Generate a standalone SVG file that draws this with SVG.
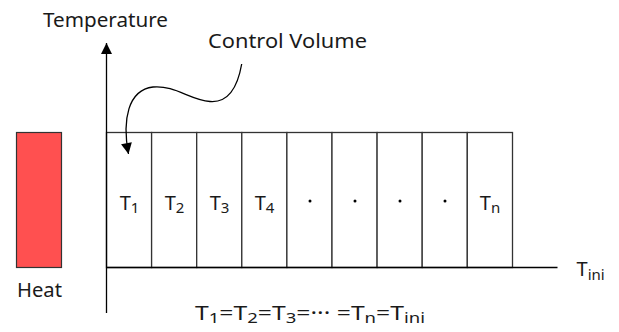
<svg xmlns="http://www.w3.org/2000/svg" width="619" height="332" viewBox="0 0 619 332">
<defs>
<style>
text{font-family:"Noto Sans","Open Sans","DejaVu Sans",sans-serif;font-size:20px;fill:#1a1a1a}
.lbl{font-size:20px}
.sub{font-size:15px}
.cell{fill:#fff;stroke:#333;stroke-width:1.3}
.ax{stroke:#000;stroke-width:1.3;fill:none}
</style>
<marker id="ah2" viewBox="0 0 10 10" refX="10" refY="5" markerWidth="14" markerHeight="11" markerUnits="userSpaceOnUse" orient="auto">
<path d="M0,0 L10,5 L0,10 z" fill="#000"/>
</marker>
</defs>
<g id="heat">
<rect x="16.5" y="132.5" width="45" height="135" fill="#ff5050" stroke="#333" stroke-width="1.2"/>
<text x="17" y="297" textLength="45" lengthAdjust="spacingAndGlyphs">Heat</text>
</g>
<g id="cells">
<rect class="cell" x="106.5" y="132.5" width="45.1" height="135"/>
<rect class="cell" x="151.6" y="132.5" width="45.1" height="135"/>
<rect class="cell" x="196.7" y="132.5" width="45.1" height="135"/>
<rect class="cell" x="241.8" y="132.5" width="45.1" height="135"/>
<rect class="cell" x="286.9" y="132.5" width="45.1" height="135"/>
<rect class="cell" x="332" y="132.5" width="45.1" height="135"/>
<rect class="cell" x="377.1" y="132.5" width="45.1" height="135"/>
<rect class="cell" x="422.2" y="132.5" width="45.1" height="135"/>
<rect class="cell" x="467.3" y="132.5" width="45.2" height="135"/>
<text class="lbl" x="129.5" y="210" text-anchor="middle">T<tspan class="sub" dy="2.5">1</tspan></text>
<text class="lbl" x="174.5" y="210" text-anchor="middle">T<tspan class="sub" dy="2.5">2</tspan></text>
<text class="lbl" x="219.5" y="210" text-anchor="middle">T<tspan class="sub" dy="2.5">3</tspan></text>
<text class="lbl" x="264.5" y="210" text-anchor="middle">T<tspan class="sub" dy="2.5">4</tspan></text>
<circle cx="310" cy="201" r="1.5" fill="#000"/>
<circle cx="355" cy="201" r="1.5" fill="#000"/>
<circle cx="400" cy="201" r="1.5" fill="#000"/>
<circle cx="445" cy="201" r="1.5" fill="#000"/>
<text class="lbl" x="490" y="210" text-anchor="middle">T<tspan class="sub" dy="2.5">n</tspan></text>
</g>
<g id="connectors">
<line class="ax" x1="106.5" y1="313" x2="106.5" y2="43" marker-end="url(#ah2)"/>
<line class="ax" x1="106.5" y1="267.5" x2="557.5" y2="267.5"/>
<path class="ax" d="M241.7,64 C238,85 229,103 210,101.5 C190,100 175,85 153,87 C128,90 122,120 128.5,154" marker-end="url(#ah2)"/>
</g>
<g id="labels">
<text x="43" y="26.5" textLength="125" lengthAdjust="spacingAndGlyphs">Temperature</text>
<text x="208" y="48" textLength="159" lengthAdjust="spacingAndGlyphs">Control Volume</text>
<text class="lbl" x="576.5" y="276">T<tspan class="sub" dy="3.5">ini</tspan></text>
<text class="lbl" x="195" y="320" textLength="230" lengthAdjust="spacingAndGlyphs">T<tspan class="sub" dy="3">1</tspan><tspan dy="-3">=T</tspan><tspan class="sub" dy="3">2</tspan><tspan dy="-3">=T</tspan><tspan class="sub" dy="3">3</tspan><tspan dy="-3">=··· =T</tspan><tspan class="sub" dy="3">n</tspan><tspan dy="-3">=T</tspan><tspan class="sub" dy="3">ini</tspan></text>
</g>
</svg>
